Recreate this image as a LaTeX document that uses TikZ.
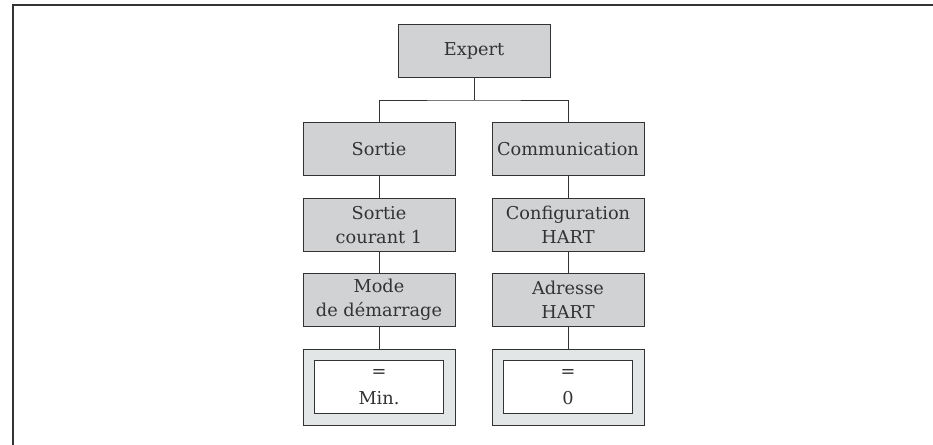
\documentclass[tikz,border=0pt]{standalone}
\usepackage{fontspec}
\setmainfont{DejaVu Serif}
\definecolor{menugray}{HTML}{D1D2D4}
\definecolor{valgray}{HTML}{E2E6E6}
\definecolor{inkgray}{HTML}{333333}
\begin{document}
\begin{tikzpicture}[
                x = 1bp, y = 1bp,
                menu/.style = {draw = inkgray, fill = menugray, text = inkgray, align = center,
                    inner sep = 0mm, minimum width = 152bp, minimum height = 53bp,
                    font = \fontsize{17.8}{24}\selectfont},
                outer/.style = {draw = inkgray, fill = valgray, inner sep = 0mm,
                    minimum width = 152bp, minimum height = 76bp},
                inner/.style = {draw = inkgray, fill = white, text = inkgray, align = center,
                    inner sep = 0mm, minimum width = 129bp, minimum height = 53bp,
                    font = \fontsize{17.8}{27}\selectfont},
                conn/.style = {draw = inkgray, line width = 0.8bp},
            ]
            \useasboundingbox (0, 0) rectangle (933, 445);
            \draw[inkgray, line width = 2bp] (933, 440) -- (13, 440) -- (13, 0);

            \node (E) at (474, 394) [menu] {Expert};

            \node (S) at (379, 296) [menu] {Sortie};
            \node (C) at (568, 296) [menu] {Communication};

            \node (S1) at (379, 220) [menu] {Sortie\\courant 1};
            \node (C1) at (568, 220) [menu] {Configuration\\HART};

            \node (S2) at (379, 145) [menu] {Mode\\de démarrage};
            \node (C2) at (568, 145) [menu] {Adresse\\HART};

            \node (S3) at (379, 58) [outer] {};
            \node (C3) at (568, 58) [outer] {};
            \node (S3v) at (379, 58) [inner] {=\\Min.};
            \node (C3v) at (568, 58) [inner] {=\\0};

            \coordinate (split) at (474, 345);

            \path[conn] (E) -- (split);
            \path[conn] (S.north) |- (split) -| (C.north);
            \path[conn] (S) -- (S1);
            \path[conn] (C) -- (C1);
            \path[conn] (S1) -- (S2);
            \path[conn] (C1) -- (C2);
            \path[conn] (S2) -- (S3);
            \path[conn] (C2) -- (C3);
        \end{tikzpicture}
\end{document}
